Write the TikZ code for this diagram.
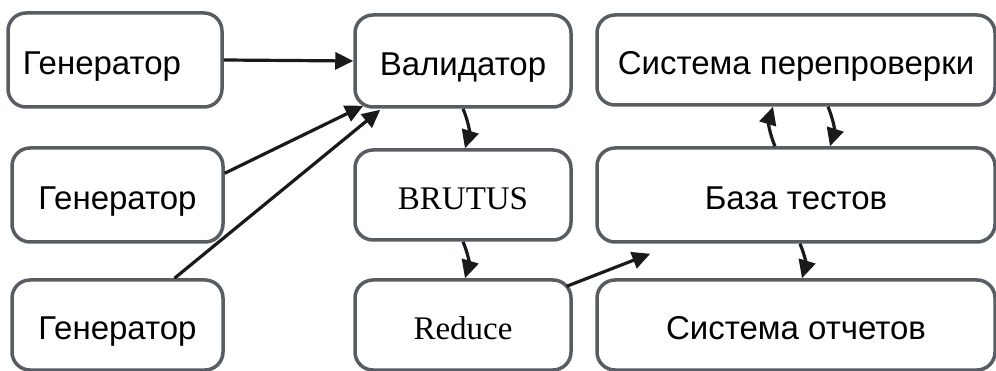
\documentclass[tikz,border=0pt]{standalone}
\usepackage{fontspec}
\setmainfont{Liberation Sans}
\newfontfamily\romfont{Liberation Serif}
\usetikzlibrary{arrows.meta}
\definecolor{BoxClr}{RGB}{88,93,100}
\definecolor{ArrClr}{RGB}{26,26,26}

\begin{document}
\begin{tikzpicture}[x=1pt,y=1pt,
  box/.style={draw=BoxClr,line width=3.5pt,rounded corners=18pt,
    inner sep=0pt,text height=30pt,text depth=0pt,
    font=\fontsize{33}{38}\selectfont},
  arr/.style={draw=ArrClr,line width=3.2pt,
    -{Triangle[length=18pt,width=17pt]}}]
\useasboundingbox (0,0) rectangle (996,-371);

% left column
\node[box,minimum width=214pt,minimum height=94pt,
  text width=184pt,align=left] (gen1) at (115,-60) {Генератор};
\node[box,minimum width=211pt,minimum height=94pt] (gen2) at (117.5,-195) {Генератор};
\node[box,minimum width=211pt,minimum height=90pt] (gen3) at (117.5,-325) {Генератор};

% middle column
\node[box,minimum width=216pt,minimum height=92pt] (val) at (463,-61) {Валидатор};
\node[box,minimum width=216pt,minimum height=90pt] (brutus) at (463,-195) {\romfont BRUTUS};
\node[box,minimum width=216pt,minimum height=90pt] (reduce) at (463,-325) {\romfont Reduce};

% right column
\node[box,minimum width=398pt,minimum height=90pt] (sys) at (796,-60) {Система перепроверки};
\node[box,minimum width=398pt,minimum height=94pt] (base) at (796,-195) {База тестов};
\node[box,minimum width=398pt,minimum height=90pt] (rep) at (796,-325) {Система отчетов};

\draw[arr] (gen1.east) -- (val.west);
\draw[arr] ([yshift=-27pt]gen2.north east) -- ([xshift=10pt,yshift=3pt]val.south west);
\draw[arr] ([xshift=57pt]gen3.north) -- ([xshift=27pt,yshift=-1pt]val.south west);
\draw[arr] (val.south) to[bend left=20] ([xshift=2pt]brutus.north);
\draw[arr] (brutus.south) to[bend left=20] ([xshift=2pt]reduce.north);
\draw[arr] ([xshift=-6pt,yshift=-8pt]reduce.north east) -- ([xshift=55pt,yshift=-10pt]base.south west);
\draw[arr] ([xshift=-21pt]base.north) to[bend left=20] ([xshift=-23pt]sys.south);
\draw[arr] ([xshift=32pt]sys.south) to[bend left=20] ([xshift=34pt]base.north);
\draw[arr] ([xshift=4pt]base.south) to[bend left=20] ([xshift=6pt]rep.north);

\end{tikzpicture}
\end{document}
